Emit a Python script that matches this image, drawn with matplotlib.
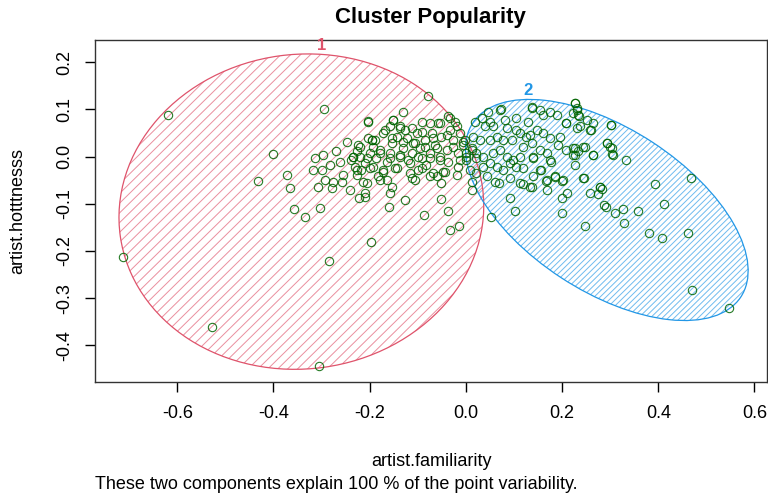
import numpy as np
import matplotlib.pyplot as plt
from matplotlib.patches import Ellipse
from matplotlib.collections import LineCollection

plt.rcParams['font.family'] = ['Liberation Sans', 'DejaVu Sans']
plt.rcParams['axes.unicode_minus'] = False

# points (artist.familiarity, artist.hotttnesss)
c1_fam = [-0.620, -0.295, -0.078, -0.401, -0.432, -0.371, -0.365, -0.358, -0.334, -0.304,
          -0.712, -0.527, -0.305, -0.285, -0.197, -0.223, -0.209, -0.160, -0.127, -0.088,
          -0.052, -0.038, -0.033, -0.014, -0.204, -0.130, -0.152, -0.248, -0.195, 0.012,
          -0.314, -0.297, -0.269, -0.317, -0.300, -0.283, -0.262, -0.293, -0.276, -0.279,
          -0.255, -0.258, -0.241, -0.307, -0.234, -0.224, -0.238, -0.231, -0.220, -0.217,
          -0.210, -0.200, -0.193, -0.186, -0.179, -0.172, -0.165, -0.158, -0.154, -0.148,
          -0.144, -0.137, -0.130, -0.127, -0.123, -0.116, -0.113, -0.110, -0.102, -0.099,
          -0.096, -0.092, -0.085, -0.082, -0.075, -0.071, -0.064, -0.058, -0.054, -0.051,
          -0.047, -0.040, -0.037, -0.033, -0.026, -0.023, -0.016, -0.012, -0.016, -0.006,
          0.001, -0.061, -0.106, -0.165, -0.206, -0.227, -0.182, -0.075, -0.092, -0.137,
          -0.158, -0.189, -0.193, -0.203, -0.172, -0.227,
          -0.203, -0.151, -0.168, -0.137, -0.113, -0.092, -0.054, -0.033, -0.019, -0.040,
          -0.068, -0.196, -0.220, -0.154, -0.130, -0.106, -0.085, -0.061, -0.026, -0.006,
          0.012, 0.022, 0.008, -0.234, -0.206, -0.179, -0.158, -0.137, -0.120, -0.099,
          -0.075, -0.054, -0.037, -0.012, -0.227, -0.200, -0.172, -0.144, -0.116, -0.092,
          -0.068, -0.044, -0.019, -0.214, -0.179, -0.154, -0.113, -0.075, -0.051, -0.210,
          -0.158, 0.012]
c1_hot = [0.089, 0.101, 0.129, 0.005, -0.051, -0.039, -0.066, -0.111, -0.127, -0.108,
          -0.212, -0.360, -0.443, -0.222, -0.181, -0.088, -0.085, -0.106, -0.092, -0.123,
          -0.090, -0.116, -0.156, -0.148, 0.075, 0.095, 0.077, 0.032, 0.035, -0.070,
          -0.003, 0.004, 0.011, -0.028, -0.028, -0.018, -0.011, -0.049, -0.053, -0.067,
          -0.039, -0.053, -0.071, -0.064, 0.000, 0.025, -0.007, -0.021, 0.000, -0.028,
          -0.014, 0.007, -0.021, -0.003, 0.014, -0.028, -0.011, 0.007, 0.028, -0.025,
          0.042, 0.000, 0.018, 0.057, 0.039, -0.014, 0.007, 0.028, 0.050, -0.028,
          0.018, -0.003, 0.035, -0.018, 0.007, 0.050, 0.025, 0.071, -0.007, 0.042,
          -0.032, 0.014, 0.085, 0.057, 0.035, 0.074, 0.007, 0.050, -0.021, 0.025,
          0.000, -0.042, -0.049, -0.049, -0.056, -0.039, -0.042, 0.071, 0.074, 0.064,
          0.064, 0.035, 0.021, 0.039, 0.050, 0.011,
          0.074, 0.078, 0.057, 0.060, 0.060, 0.053, 0.071, 0.081, 0.064, 0.046,
          0.039, 0.035, 0.021, 0.039, 0.032, 0.028, 0.021, 0.018, 0.021, 0.032,
          0.018, -0.003, -0.028, 0.000, -0.003, 0.007, -0.003, 0.004, -0.007, 0.000,
          -0.003, 0.000, -0.011, -0.007, -0.028, -0.025, -0.032, -0.025, -0.035, -0.025,
          -0.035, -0.032, -0.039, -0.053, -0.049, -0.064, -0.046, -0.042, -0.056, -0.078,
          -0.078, -0.053]

c2_fam = [0.469, 0.394, 0.412, 0.461, 0.408, 0.380, 0.471, 0.546, 0.358, 0.329,
          0.326, 0.311, 0.288, 0.292, 0.279, 0.282, 0.274, 0.259, 0.248, 0.200,
          0.210, 0.200, 0.246, 0.185, 0.200, 0.166, 0.137, 0.119, 0.102, 0.091,
          0.053, 0.068, 0.332, 0.301, 0.303, 0.299, 0.294, 0.265, 0.227, 0.137,
          0.073, 0.157, 0.140, 0.177, 0.227, 0.223, 0.233, 0.244, 0.227, 0.261,
          0.230, 0.236, 0.251, 0.209, 0.230, 0.222,
          0.046, 0.071, 0.033, 0.050, 0.040, 0.057, 0.081, 0.085, 0.105, 0.130,
          0.137, 0.154, 0.175, 0.161, 0.189, 0.209, 0.227, 0.230, 0.233, 0.237,
          0.258, 0.265, 0.301, 0.293, 0.303, 0.306, 0.265, 0.247, 0.223, 0.227,
          0.209, 0.192, 0.195, 0.175, 0.161, 0.147, 0.133, 0.126, 0.137, 0.112,
          0.105, 0.095, 0.078, 0.064, 0.050, 0.029, 0.015, 0.012, 0.022, 0.036,
          0.057, 0.071, 0.085, 0.098, 0.112, 0.119, 0.140, 0.154, 0.168, 0.175,
          0.154, 0.185, 0.202, 0.168, 0.140, 0.119, 0.105, 0.091, 0.078, 0.064,
          0.050, 0.036, 0.022, 0.043, 0.060, 0.091, 0.112, 0.133, 0.168, 0.244,
          0.279, 0.019, -0.002, 0.001, 0.001]
c2_hot = [-0.046, -0.058, -0.101, -0.162, -0.173, -0.162, -0.283, -0.321, -0.115, -0.140,
          -0.111, -0.120, -0.102, -0.107, -0.064, -0.068, -0.079, -0.078, -0.147, -0.120,
          -0.076, -0.088, -0.046, -0.044, -0.051, -0.051, -0.065, -0.058, -0.115, -0.088,
          -0.127, -0.056, -0.007, 0.067, 0.006, 0.021, 0.028, 0.003, 0.113, 0.104,
          0.100, -0.028, -0.002, -0.011, -0.018, 0.004, 0.011, 0.021, 0.018, 0.057,
          0.060, 0.085, 0.078, 0.071, 0.099, 0.092,
          0.095, 0.099, 0.081, 0.074, 0.064, 0.064, 0.078, 0.060, 0.081, 0.074,
          0.106, 0.099, 0.095, 0.088, 0.088, 0.071, 0.113, 0.103, 0.088, 0.064,
          0.057, 0.071, 0.067, 0.028, 0.018, 0.004, 0.004, 0.021, 0.018, 0.004,
          0.014, 0.025, 0.042, 0.039, 0.050, 0.057, 0.046, 0.042, 0.028, 0.050,
          0.057, 0.035, 0.035, 0.042, 0.035, 0.035, 0.042, 0.014, 0.007, 0.000,
          0.007, 0.014, 0.000, -0.007, 0.000, 0.021, 0.000, 0.014, 0.007, -0.007,
          -0.028, -0.042, -0.049, -0.049, -0.042, -0.025, -0.021, -0.014, -0.028, -0.021,
          -0.014, -0.021, -0.035, -0.042, -0.053, -0.046, -0.056, -0.064, -0.071, -0.046,
          -0.064, 0.074, 0.035, 0.007, -0.007]

# cluster ellipses: centre, full width/height, rotation
ell_x = [-0.342, 0.293]
ell_y = [-0.1165, -0.113]
ell_w = [0.76, 0.668]
ell_h = [0.666, 0.344]
ell_ang = [8, -33.7]
ell_col = ['#DF536B', '#2297E6']
ell_lab = ['1', '2']
lab_x = [-0.299, 0.129]
lab_y = [0.236, 0.140]
hatch_step = [0.0206, 0.0124]

xticks = [-0.6, -0.4, -0.2, 0.0, 0.2, 0.4, 0.6]
yticks = [-0.4, -0.3, -0.2, -0.1, 0.0, 0.1, 0.2]

fig = plt.figure(figsize=(7.68, 4.98), dpi=100)
ax = fig.add_axes([0.1237, 0.2323, 0.875, 0.6874])

for i in range(2):
    e = Ellipse((ell_x[i], ell_y[i]), ell_w[i], ell_h[i], angle=ell_ang[i],
                fill=False, edgecolor=ell_col[i], lw=0.9, zorder=2)
    ax.add_patch(e)
    # hand made hatching, 45 degree lines clipped to the ellipse
    R = max(ell_w[i], ell_h[i])
    segs = []
    for c in np.arange(-2 * R, 2 * R, hatch_step[i]):
        x0, x1 = ell_x[i] - R, ell_x[i] + R
        segs.append([(x0, ell_y[i] + (x0 - ell_x[i]) + c), (x1, ell_y[i] + (x1 - ell_x[i]) + c)])
    lc = LineCollection(segs, colors=ell_col[i], linewidths=0.7, alpha=0.65, zorder=1)
    ax.add_collection(lc)
    lc.set_clip_path(e)
    ax.text(lab_x[i], lab_y[i], ell_lab[i], color=ell_col[i], fontsize=12,
            fontweight='bold', ha='center', va='center')

ax.plot(c1_fam, c1_hot, 'o', mfc='none', mec='#006400', ms=6, mew=0.8, alpha=0.85, zorder=3)
ax.plot(c2_fam, c2_hot, 'o', mfc='none', mec='#006400', ms=6, mew=0.8, alpha=0.85, zorder=3)

ax.set_xlim(-0.771, 0.626)
ax.set_ylim(-0.478, 0.247)
ax.set_xticks(xticks)
ax.set_xticklabels(['%.1f' % v for v in xticks])
ax.set_yticks(yticks)
ax.set_yticklabels(['%.1f' % v for v in yticks], rotation=90, va='center')
ax.tick_params(direction='out', length=7, width=1, labelsize=13, pad=9)
for s in ax.spines.values():
    s.set_linewidth(1)
    s.set_color('#333333')

ax.set_xlabel('artist.familiarity', fontsize=13, va='center')
ax.xaxis.set_label_coords(0.5, -0.23)
ax.set_ylabel('artist.hotttnesss', fontsize=13, va='center')
ax.yaxis.set_label_coords(-0.115, 0.5)

fig.text(0.561, 1 - 17 / 498, 'Cluster Popularity', fontsize=16, fontweight='bold',
         ha='center', va='center')
fig.text(95 / 768, 1 - 484 / 498, 'These two components explain 100 % of the point variability.',
         fontsize=13, ha='left', va='center')

fig.savefig('out.png', dpi=100)
